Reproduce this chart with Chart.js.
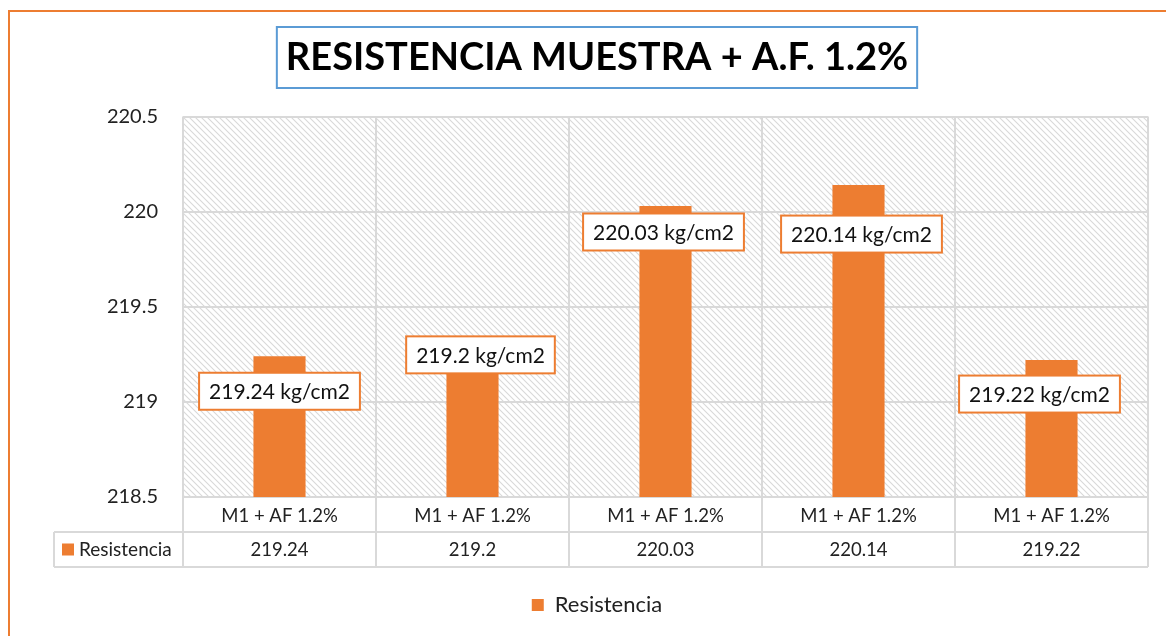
<!DOCTYPE html>
<html lang="es">
<head>
  <meta charset="UTF-8">
  <title>Resistencia muestra + A.F. 1.2%</title>
  <script src="https://cdn.jsdelivr.net/npm/chart.js"></script>
  <style>
    html, body { margin: 0; padding: 0; background: #fff; }
    #wrap { width: 1166px; height: 636px; position: relative; }
  </style>
</head>
<body>
  <div id="wrap">
    <canvas id="chart" width="1166" height="636"></canvas>
  </div>

  <script>
    // data
    const categories = ['M1 + AF 1.2%', 'M1 + AF 1.2%', 'M1 + AF 1.2%', 'M1 + AF 1.2%', 'M1 + AF 1.2%'];
    const resistencia = [219.24, 219.2, 220.03, 220.14, 219.22];
    const yTicks = [218.5, 219, 219.5, 220, 220.5];
    const seriesName = 'Resistencia';
    const unit = 'kg/cm2';
    const chartTitle = 'RESISTENCIA MUESTRA + A.F. 1.2%';

    const ORANGE = '#ED7D31';
    const GRID = '#d9d9d9';
    const FONT = 'Lato, "Open Sans", sans-serif';

    // where the user dragged each data label (pixels from bar top)
    const labelShift = [[0, 35], [8, -9], [-2, 26], [3, 49], [-12, 34]];

    // diagonal hatch for the plot area
    function hatch() {
      const c = document.createElement('canvas');
      c.width = 6; c.height = 6;
      const g = c.getContext('2d');
      g.fillStyle = '#fff';
      g.fillRect(0, 0, 6, 6);
      g.strokeStyle = GRID;
      g.lineWidth = 1.1;
      g.beginPath();
      g.moveTo(-1, -1); g.lineTo(7, 7);
      g.moveTo(-1, 5); g.lineTo(1, 7);
      g.moveTo(5, -1); g.lineTo(7, 1);
      g.stroke();
      return g.createPattern(c, 'repeat');
    }

    const frame = {
      id: 'frame',
      beforeDraw(chart) {
        const { ctx, chartArea: a } = chart;
        ctx.save();
        ctx.fillStyle = hatch();
        ctx.fillRect(a.left, a.top, a.right - a.left, a.bottom - a.top);
        ctx.restore();
      },
      afterDraw(chart) {
        const { ctx, chartArea: a } = chart;
        const x = chart.scales.x;
        const t = chart.titleBlock;
        ctx.save();

        // outer orange border (only top and left show)
        ctx.strokeStyle = ORANGE;
        ctx.lineWidth = 2;
        ctx.beginPath();
        ctx.moveTo(9, 640);
        ctx.lineTo(9, 11);
        ctx.lineTo(1170, 11);
        ctx.stroke();

        // title box
        ctx.font = 'bold 38px ' + FONT;
        const tw = ctx.measureText(chartTitle).width;
        const cx = (t.left + t.right) / 2;
        ctx.strokeStyle = '#5B9BD5';
        ctx.lineWidth = 2;
        ctx.strokeRect(cx - tw / 2 - 9, 27, tw + 18, 61);

        // data table under the plot
        const rowH = 35;
        const y0 = a.bottom, y1 = a.bottom + rowH, y2 = a.bottom + 2 * rowH;
        const tableLeft = 54;
        ctx.strokeStyle = GRID;
        ctx.lineWidth = 2;
        ctx.beginPath();
        ctx.moveTo(tableLeft, y1); ctx.lineTo(a.right, y1);
        ctx.moveTo(tableLeft, y2); ctx.lineTo(a.right, y2);
        ctx.moveTo(tableLeft, y1); ctx.lineTo(tableLeft, y2);
        const step = (a.right - a.left) / categories.length;
        for (let i = 0; i <= categories.length; i++) {
          const gx = a.left + i * step;
          ctx.moveTo(gx, y0); ctx.lineTo(gx, y2);
        }
        ctx.stroke();

        ctx.fillStyle = '#222';
        ctx.font = '18.5px ' + FONT;
        ctx.textAlign = 'center';
        ctx.textBaseline = 'middle';
        resistencia.forEach((v, i) => {
          ctx.fillText(String(v), x.getPixelForValue(i), (y1 + y2) / 2 + 1);
        });
        ctx.fillStyle = ORANGE;
        ctx.fillRect(tableLeft + 8, (y1 + y2) / 2 - 6, 12, 12);
        ctx.fillStyle = '#222';
        ctx.font = '19px ' + FONT;
        ctx.textAlign = 'left';
        ctx.fillText(seriesName, tableLeft + 25, (y1 + y2) / 2);

        ctx.restore();
      },
      afterDatasetsDraw(chart) {
        const { ctx } = chart;
        const bars = chart.getDatasetMeta(0).data;
        ctx.save();
        ctx.font = '21px ' + FONT;
        ctx.textAlign = 'center';
        ctx.textBaseline = 'middle';
        bars.forEach((bar, i) => {
          const txt = resistencia[i] + ' ' + unit;
          const w = ctx.measureText(txt).width + 20;
          const h = 37;
          const lx = bar.x + labelShift[i][0];
          const ly = bar.y + labelShift[i][1];
          ctx.fillStyle = '#fff';
          ctx.fillRect(lx - w / 2, ly - h / 2, w, h);
          ctx.strokeStyle = ORANGE;
          ctx.lineWidth = 2;
          ctx.strokeRect(lx - w / 2, ly - h / 2, w, h);
          ctx.fillStyle = '#111';
          ctx.fillText(txt, lx, ly + 1);
        });
        ctx.restore();
      }
    };

    new Chart(document.getElementById('chart'), {
      type: 'bar',
      data: {
        labels: categories,
        datasets: [{
          label: seriesName,
          data: resistencia,
          backgroundColor: ORANGE,
          borderWidth: 0,
          barPercentage: 0.27,
          categoryPercentage: 1
        }]
      },
      options: {
        responsive: false,
        animation: false,
        layout: { padding: { top: 16, left: 46, right: 18, bottom: 10 } },
        scales: {
          y: {
            min: yTicks[0],
            max: yTicks[yTicks.length - 1],
            afterBuildTicks: s => { s.ticks = yTicks.map(v => ({ value: v })); },
            afterFit: s => { s.width = 137; },
            grid: { color: GRID, lineWidth: 2, drawTicks: false },
            border: { display: false },
            ticks: {
              padding: 25,
              color: '#222',
              font: { family: FONT, size: 20 },
              callback: v => String(v)
            }
          },
          x: {
            afterFit: s => { s.height = 89; },
            grid: { color: GRID, lineWidth: 2, drawTicks: false, offset: true },
            border: { display: false },
            ticks: {
              padding: 8,
              color: '#222',
              font: { family: FONT, size: 18.5 },
              maxRotation: 0
            }
          }
        },
        plugins: {
          title: {
            display: true,
            text: chartTitle,
            color: '#000',
            font: { family: FONT, size: 38, weight: 'bold' },
            padding: { top: 19, bottom: 36 }
          },
          legend: {
            position: 'bottom',
            labels: {
              color: '#222',
              font: { family: FONT, size: 22 },
              boxWidth: 12,
              boxHeight: 12,
              padding: 8
            }
          },
          tooltip: { enabled: false }
        }
      },
      plugins: [frame]
    });
  </script>
</body>
</html>
